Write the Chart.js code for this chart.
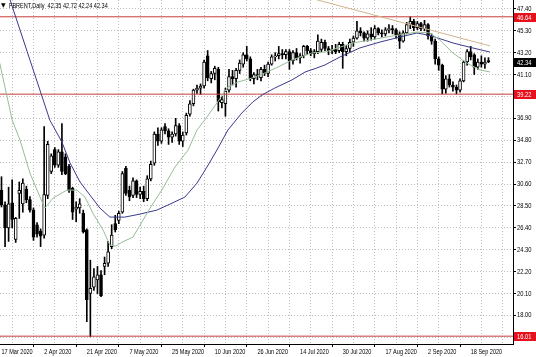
<!DOCTYPE html>
<html><head><meta charset="utf-8">
<script src="https://cdn.jsdelivr.net/npm/chart.js@4"></script>
<style>html,body{margin:0;padding:0;background:#fff;}canvas{display:block;}</style>
</head><body>
<canvas id="c" width="536" height="357"></canvas>
<script>
// ---- data ----
const tickIdx = [0,12,24,36,48,60,72,84,96,108,120,132];
const tickLabels = ['17 Mar 2020','2 Apr 2020','21 Apr 2020','7 May 2020','25 May 2020','10 Jun 2020','26 Jun 2020','14 Jul 2020','30 Jul 2020','17 Aug 2020','2 Sep 2020','18 Sep 2020'];
const priceTicks = [47.40,45.30,43.20,41.10,39.00,36.90,34.80,32.70,30.60,28.50,26.40,24.30,22.20,20.10,18.00,15.90];

const opens  = [30.0,28.6,26.4,28.8,25.3,29.7,28.7,30.1,29.1,28.1,26.7,26.1,25.7,29.5,31.8,33.9,32.4,33.7,33.2,32.3,30.2,28.2,28.3,27.8,26.2,20.1,20.7,21.4,21.9,22.7,23.0,24.6,26.8,27.1,27.9,32.1,30.0,29.5,30.9,29.6,29.9,29.2,31.1,32.6,35.4,34.7,36.1,35.7,35.1,35.4,36.2,34.7,35.5,37.3,38.3,39.6,39.8,40.0,42.9,40.7,41.2,41.6,38.4,38.3,39.6,40.9,40.7,41.5,42.1,43.0,42.6,40.7,41.1,40.8,41.6,41.2,42.1,42.8,42.9,43.1,43.0,43.3,42.4,43.2,42.7,42.9,43.8,43.4,43.1,43.3,43.5,44.2,43.6,43.4,43.5,43.4,44.0,43.3,43.6,44.2,44.6,45.3,45.1,44.6,45.0,44.7,45.5,45.1,45.0,45.4,45.5,45.4,45.0,44.3,45.1,45.9,46.2,45.6,46.0,45.5,45.9,44.8,44.3,42.6,42.0,39.7,40.7,40.1,39.9,39.6,40.5,42.3,43.3,43.0,41.8,42.3,42.1,42.35];
const highs  = [31.3,28.9,30.3,31.0,27.4,30.8,31.1,30.4,29.4,28.3,26.9,26.3,36.1,34.7,33.5,34.1,33.9,36.4,33.5,32.5,30.3,28.9,29.2,28.1,26.3,23.3,22.5,22.7,22.3,23.6,25.1,26.7,27.6,28.0,31.8,32.3,30.4,31.2,31.0,30.3,30.4,31.4,32.8,35.6,36.0,36.0,36.4,35.9,35.6,36.9,36.4,35.6,37.4,38.6,39.7,40.1,40.2,42.5,43.4,41.4,41.9,41.8,39.0,39.8,41.6,41.5,41.7,42.5,43.2,43.8,42.8,41.3,41.6,41.8,42.0,42.3,43.0,43.2,43.8,43.5,43.5,43.5,43.4,43.6,43.1,43.9,43.9,43.6,43.5,44.9,44.5,44.4,43.8,43.9,44.0,44.2,44.2,43.9,44.5,44.8,46.2,45.6,45.2,45.3,45.6,45.8,45.6,45.4,45.6,45.9,45.8,45.5,45.2,45.3,46.1,46.64,46.4,46.2,46.1,46.3,46.0,45.0,44.5,42.8,42.1,41.0,41.1,40.4,40.1,40.7,42.4,43.5,43.8,43.1,42.6,42.9,42.7,42.72];
const lows   = [28.4,24.6,25.1,26.4,25.0,27.3,27.9,28.8,27.9,25.2,25.5,24.6,25.4,29.2,31.6,32.2,32.2,31.5,31.5,29.8,27.2,27.0,27.8,25.9,17.4,15.95,20.4,20.1,19.8,21.9,22.7,24.4,26.0,26.8,27.8,29.5,29.0,29.3,29.3,29.2,28.9,29.0,30.9,32.4,34.3,34.5,35.4,34.4,34.6,35.2,34.4,34.2,35.3,37.1,38.1,39.3,39.2,39.8,40.5,40.3,40.6,37.6,37.9,37.1,39.4,40.1,39.9,41.2,41.8,42.4,40.5,40.2,40.6,40.5,41.0,40.9,42.0,42.4,42.6,42.6,42.6,41.6,42.1,42.5,42.2,42.7,43.0,42.9,42.7,43.1,43.3,43.4,43.0,43.1,43.1,43.2,41.7,42.9,43.3,43.8,44.5,44.8,44.3,44.3,44.4,44.5,44.9,44.7,44.8,45.1,45.0,44.6,43.6,44.2,45.0,45.5,45.3,45.4,45.3,45.3,44.5,44.0,42.1,41.5,39.25,39.3,39.9,39.5,39.25,39.4,40.4,42.0,42.5,41.1,41.6,41.8,41.7,42.24];
const closes = [28.6,26.4,28.7,27.2,27.3,30.0,30.7,29.1,28.1,25.5,25.8,25.6,29.6,34.4,33.3,32.4,33.7,31.8,31.6,30.0,27.9,28.4,28.7,26.0,19.5,20.6,21.7,21.9,19.9,23.0,24.1,25.7,26.2,27.8,31.6,29.7,29.4,30.9,29.6,29.9,29.2,31.1,32.5,35.4,34.7,35.8,35.7,35.1,35.4,36.2,34.7,35.3,37.2,38.3,39.6,39.8,40.0,42.3,40.8,41.2,41.7,38.5,38.7,39.5,40.9,40.7,41.5,42.2,43.0,42.6,40.7,41.1,41.0,41.6,41.2,42.1,42.8,42.9,43.1,43.0,43.3,42.4,43.2,42.7,42.9,43.8,43.4,43.1,43.3,44.3,44.2,43.6,43.4,43.5,43.3,44.0,43.3,43.6,44.2,44.6,45.3,45.1,44.6,45.0,44.7,45.5,45.1,45.0,45.4,45.5,45.4,44.9,44.3,45.1,45.9,46.2,45.6,46.0,45.5,45.9,44.8,44.3,42.6,42.0,39.7,40.7,40.1,39.9,39.6,40.5,42.3,43.3,42.8,41.8,42.3,42.1,42.3,42.34];

// moving averages (bar index, price)
const fastIdx = [-0.5,3.0,5.2,8.0,10.0,12.2,14.5,18.4,21.2,23.5,25.7,28.6,30.5,32.2,33.9,37.0,41.8,45.1,48.8,52.5,55.0,57.8,60.6,63.7,66.5,70.5,74.1,77.8,81.7,87.3,91.0,98.9,108.4,116.9,120.5,123.3,127.0,130.9,134.6,137.4];
const fastVal = [42.2,36.73,34.82,31.65,30.02,28.29,29.25,30.02,30.02,29.35,27.81,26.18,24.74,24.65,25.03,25.51,28.29,30.02,32.23,33.86,35.78,37.03,38.37,39.90,40.38,40.77,41.25,41.82,42.50,43.17,43.26,44.13,44.70,45.18,45.09,44.42,43.17,42.21,41.54,41.35];
const slowIdx = [1.5,13.6,17.0,19.3,22.1,24.9,27.7,30.5,34.7,39.0,43.7,46.8,51.6,55.0,57.8,60.6,63.7,67.6,70.7,73.3,76.9,81.7,85.4,88.7,91.0,95.2,100.8,106.5,112.1,116.9,119.7,121.9,127.0,132.6,137.4];
const slowVal = [49.2,36.73,34.63,32.61,30.79,29.54,28.29,27.43,27.43,27.72,28.10,28.58,29.35,30.69,32.23,33.86,35.78,37.41,38.47,39.14,39.81,40.58,41.34,41.73,42.02,42.78,43.65,44.22,44.70,45.09,44.90,44.70,44.13,43.65,43.26];
const trendIdx = [85, 137.5];
const trendVal = [48.61, 43.84];
const levels = [46.64, 39.22, 16.01];
const lastPrice = 42.34;
const headerText = 'FBRENT,Daily  42.35 42.72 42.24 42.34';

// ---- build ----
const FAM = '"Liberation Sans",Arial,sans-serif';
const FS = 7.5;
const n = opens.length;
const bodies = [], wicks = [], bodyFill = [];
for (let i = 0; i < n; i++) {
  bodies.push({x: i, y: [opens[i], closes[i]]});
  wicks.push({x: i, y: [lows[i], highs[i]]});
  bodyFill.push(closes[i] >= opens[i] ? '#ffffff' : '#000000');
}
const pts = (a, b) => a.map((v, k) => ({x: v, y: b[k]}));
const X_MIN = -0.42, X_MAX = 143.9;
const levelLine = v => [{x: X_MIN, y: v}, {x: X_MAX, y: v}];

// the reference font is condensed: draw each label squeezed horizontally
function narrowText(ctx, t, x, y, k) {
  ctx.save(); ctx.translate(x, y); ctx.scale(k, 1); ctx.fillText(t, 0, 0); ctx.restore();
}
function narrowScale(s, k) {
  const proto = Object.getPrototypeOf(s);
  s.drawLabels = function (area) {
    const ctx = this.ctx;
    const orig = CanvasRenderingContext2D.prototype.fillText;
    ctx.fillText = function (t, x, y) { this.save(); this.translate(x, y); this.scale(k, 1); orig.call(this, t, 0, 0); this.restore(); };
    try { proto.drawLabels.call(this, area); } finally { delete ctx.fillText; }
  };
}

const labelPlugin = {
  id: 'mtLabels',
  beforeDraw(chart) {
    const c = chart.ctx; c.save(); c.fillStyle = '#fff'; c.fillRect(0, 0, chart.width, chart.height); c.restore();
  },
  afterDraw(chart) {
    const c = chart.ctx, y = chart.scales.y, ca = chart.chartArea;
    c.save();
    c.textBaseline = 'middle';
    c.textAlign = 'left';
    c.fillStyle = '#000';
    c.font = '6px "DejaVu Sans"';
    c.fillText('\u25BC', 1, 5.5);
    c.font = FS + 'px ' + FAM;
    narrowText(c, headerText, 9, 6, 0.74);
    const box = (v, bg) => {
      const py = Math.round(y.getPixelForValue(v));
      c.fillStyle = bg;
      c.fillRect(ca.right + 1, py - 4, 22, 9);
      c.fillStyle = '#fff';
      narrowText(c, v.toFixed(2), ca.right + 4, py + 0.5, 0.77);
    };
    levels.forEach(v => box(v, '#e8101a'));
    box(lastPrice, '#000');
    c.restore();
  }
};

new Chart(document.getElementById('c'), {
  type: 'bar',
  data: {
    datasets: [
      {type: 'line', data: pts(fastIdx, fastVal), borderColor: '#98bc98', borderWidth: 1, pointRadius: 0, tension: 0, order: 0},
      {type: 'line', data: pts(slowIdx, slowVal), borderColor: '#3a3a8c', borderWidth: 1, pointRadius: 0, tension: 0, order: 0},
      {type: 'line', data: pts(trendIdx, trendVal), borderColor: '#d2b48c', borderWidth: 1, pointRadius: 0, tension: 0, order: 0},
      ...levels.map(v => ({type: 'line', data: levelLine(v), borderColor: '#c83c3c', borderWidth: 1, pointRadius: 0, order: 0})),
      {type: 'bar', data: bodies, backgroundColor: bodyFill, borderColor: '#000', borderWidth: 1, borderSkipped: false, barThickness: 3, minBarLength: 1, grouped: false, order: 1},
      {type: 'bar', data: wicks, backgroundColor: '#000', borderWidth: 0, barThickness: 1, grouped: false, order: 2}
    ]
  },
  options: {
    responsive: false, animation: false, events: [],
    layout: {padding: 0},
    plugins: {legend: {display: false}, tooltip: {enabled: false}, title: {display: false}},
    scales: {
      x: {
        type: 'linear', min: X_MIN, max: X_MAX, offset: false,
        afterBuildTicks: s => { const t = []; for (let v = 0; v <= 138; v += 6) t.push({value: v}); s.ticks = t; },
        afterFit: s => { s.height = 13; s.paddingLeft = 0; s.paddingRight = 0; narrowScale(s, 0.74); },
        ticks: {
          autoSkip: false, maxRotation: 0, minRotation: 0, align: 'start', padding: 0, color: '#000',
          font: {family: FAM, size: FS},
          callback: v => { const k = tickIdx.indexOf(v); return k >= 0 ? tickLabels[k] : ''; }
        },
        grid: {color: '#bdbdbd', lineWidth: 1, drawTicks: true, tickLength: 3,
               tickColor: ctx => (ctx.tick && tickIdx.includes(ctx.tick.value)) ? '#000' : 'rgba(0,0,0,0)'},
        border: {display: true, color: '#000', width: 1, dash: [1, 2]}
      },
      y: {
        type: 'linear', position: 'right', min: 15.26, max: 48.25,
        afterBuildTicks: s => { s.ticks = priceTicks.map(v => ({value: v})); },
        afterFit: s => { s.width = 23; s.paddingTop = 0; s.paddingBottom = 0; narrowScale(s, 0.77); },
        ticks: {autoSkip: false, padding: 1, color: '#000', font: {family: FAM, size: FS},
                callback: v => Number(v).toFixed(2)},
        grid: {color: '#bdbdbd', lineWidth: 1, drawTicks: true, tickLength: 3, tickColor: '#000'},
        border: {display: true, color: '#000', width: 1, dash: [1, 2]}
      }
    }
  },
  plugins: [labelPlugin]
});
</script>
</body></html>
